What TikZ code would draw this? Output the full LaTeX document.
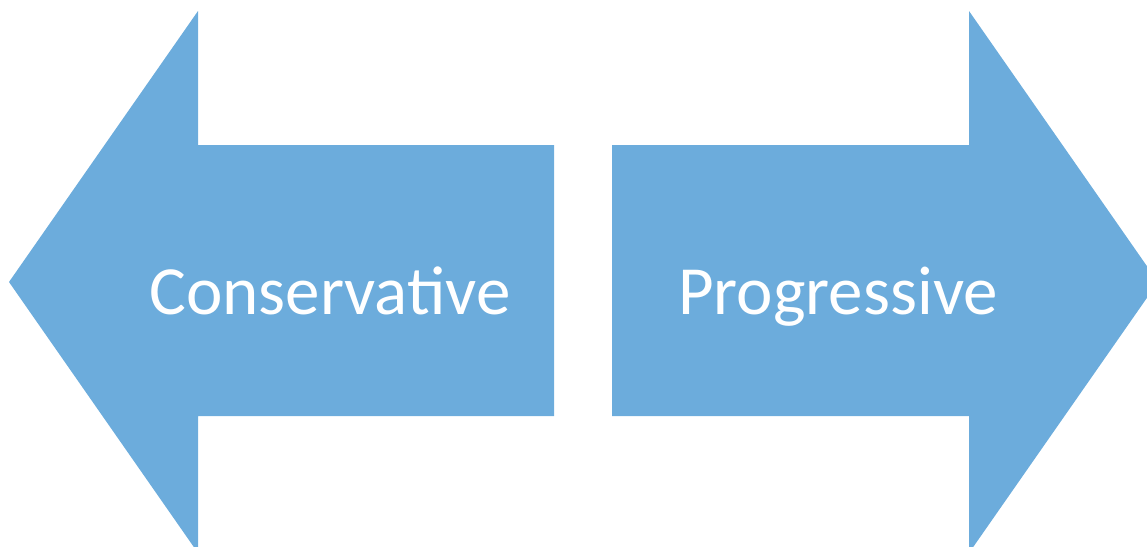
\documentclass[tikz,border=0pt]{standalone}
\usepackage{fontspec}
\setmainfont{Carlito}
\definecolor{arrowblue}{RGB}{108,172,220}
\begin{document}
\begin{tikzpicture}[x=1pt, y=-1pt, thick,
    big/.style = {fill=arrowblue, draw=none},
    word/.style = {text=white, font=\fontsize{69}{83}\selectfont, inner sep=0pt}]
    \useasboundingbox (0,0) rectangle (1147,546);
    \clip (0,0) rectangle (1147,546);

    % left arrow
    \fill[big] (9,282) -- (198,11) -- (198,145) -- (554,145) -- (554,416)
        -- (198,416) -- (198,553) -- cycle;
    % right arrow
    \fill[big] (1158,282) -- (969,11) -- (969,145) -- (612,145) -- (612,416)
        -- (969,416) -- (969,553) -- cycle;

    \node[word, anchor=base] (cons) at (330,314) {Conservative};
    \node[word, anchor=base] (prog) at (838,314) {Progressive};
\end{tikzpicture}
\end{document}
